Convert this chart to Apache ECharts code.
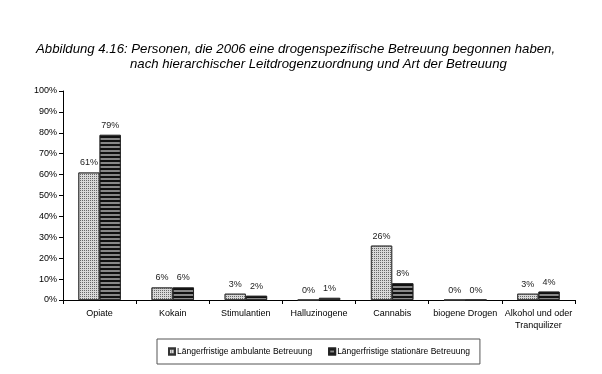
<!DOCTYPE html>
<html><head><meta charset="utf-8">
<script src="https://cdn.jsdelivr.net/npm/echarts@6/dist/echarts.min.js"></script>
<style>html,body{margin:0;padding:0;background:#fff}#c{width:602px;height:374px}</style>
</head><body><div id="c"></div>
<script>
const categories = ['Opiate','Kokain','Stimulantien','Halluzinogene','Cannabis','biogene Drogen','Alkohol und oder\nTranquilizer'];
const ambulant = [61, 6, 3, 0, 26, 0, 3];
const stationaer = [79, 6, 2, 1, 8, 0, 4];
const seriesNames = ['Längerfristige ambulante Betreuung','Längerfristige stationäre Betreuung'];
const titleLine1 = 'Abbildung 4.16: Personen, die 2006 eine drogenspezifische Betreuung begonnen haben,';
const titleLine2 = 'nach hierarchischer Leitdrogenzuordnung und Art der Betreuung';

const font = 'Liberation Sans, Arial, sans-serif';
const chart = echarts.init(document.getElementById('c'), null, {renderer:'canvas'});
const lbl = {show:true, position:'top', distance:5, fontSize:9, color:'#222', fontFamily:font, formatter:'{c}%'};
chart.setOption({
  animation:false,
  backgroundColor:'#fff',
  title:[
    {text:titleLine1, left:31, top:38, textStyle:{fontSize:13.2, fontStyle:'italic', fontWeight:'normal', color:'#000', fontFamily:font}},
    {text:titleLine2, left:125, top:53, textStyle:{fontSize:13.2, fontStyle:'italic', fontWeight:'normal', color:'#000', fontFamily:font}}
  ],
  grid:{left:63, right:27, top:91, bottom:74, containLabel:false},
  legend:{
    data:seriesNames, bottom:10, left:157, icon:'rect', itemWidth:6, itemHeight:6, itemGap:16,
    padding:[8,10,8,11], borderColor:'#555', borderWidth:1, borderRadius:0,
    textStyle:{fontSize:8.5, color:'#000', fontFamily:font, padding:[0,0,0,-3]}
  },
  xAxis:{
    type:'category', data:categories, boundaryGap:true,
    axisLine:{lineStyle:{color:'#000', width:1}},
    axisTick:{show:true, alignWithLabel:false, length:4, lineStyle:{color:'#000'}},
    axisLabel:{fontSize:9, color:'#000', fontFamily:font, margin:8, interval:0, lineHeight:12}
  },
  yAxis:{
    type:'value', min:0, max:100, interval:10,
    axisLine:{show:true, lineStyle:{color:'#000'}},
    axisTick:{show:true, length:4, lineStyle:{color:'#000'}},
    splitLine:{show:false},
    axisLabel:{formatter:'{value}%', fontSize:9, color:'#000', fontFamily:font, margin:6}
  },
  series:[
    {name:seriesNames[0], type:'bar', data:ambulant, barGap:'0%', barCategoryGap:'42%', label:lbl,
     itemStyle:{color:'#d8d8d8', borderColor:'#333', borderWidth:0.8,
       decal:{symbol:'rect', symbolSize:1, color:'#666', dashArrayX:[1,1], dashArrayY:[1,1], rotation:0}}},
    {name:seriesNames[1], type:'bar', data:stationaer, label:lbl,
     itemStyle:{color:'#888', borderColor:'#222', borderWidth:0.8,
       decal:{symbol:'rect', symbolSize:1, color:'#111', dashArrayX:[1,0], dashArrayY:[2,2], rotation:0}}}
  ]
});
</script></body></html>
